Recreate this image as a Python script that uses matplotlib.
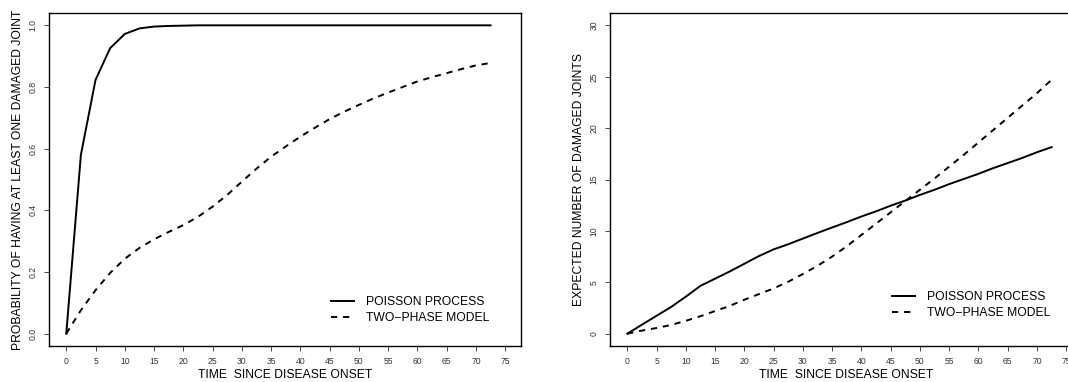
import numpy as np
import matplotlib
matplotlib.use("Agg")
import matplotlib.pyplot as plt

plt.rcParams['font.family'] = ['Liberation Sans', 'DejaVu Sans']

# time since disease onset (every 2.5 units)
time = np.arange(0, 72.5 + 0.01, 2.5)

# probability of having at least one damaged joint
prob_poisson = [0.0, 0.58, 0.823, 0.926, 0.972, 0.990, 0.996, 0.998, 0.999, 1.0,
                1.0, 1.0, 1.0, 1.0, 1.0, 1.0, 1.0, 1.0, 1.0, 1.0,
                1.0, 1.0, 1.0, 1.0, 1.0, 1.0, 1.0, 1.0, 1.0, 1.0]
prob_twophase = [0.0, 0.076, 0.141, 0.197, 0.243, 0.278, 0.306, 0.330, 0.352, 0.379,
                 0.412, 0.450, 0.493, 0.535, 0.574, 0.607, 0.639, 0.668, 0.696, 0.720,
                 0.742, 0.763, 0.782, 0.800, 0.818, 0.832, 0.845, 0.858, 0.870, 0.878]

# expected number of damaged joints
exp_poisson = [0.0, 0.87, 1.74, 2.6, 3.6, 4.65, 5.35, 6.05, 6.8, 7.55,
               8.2, 8.7, 9.25, 9.8, 10.33, 10.85, 11.4, 11.9, 12.45, 12.95,
               13.5, 14.0, 14.55, 15.05, 15.55, 16.1, 16.6, 17.1, 17.65, 18.15]
exp_twophase = [0.0, 0.3, 0.55, 0.85, 1.25, 1.7, 2.2, 2.7, 3.3, 3.85,
                4.4, 5.05, 5.8, 6.6, 7.5, 8.5, 9.6, 10.7, 11.8, 12.9,
                14.0, 15.1, 16.25, 17.4, 18.6, 19.8, 21.0, 22.2, 23.4, 24.7]

labels = ['POISSON PROCESS', 'TWO\u2212PHASE MODEL']
xticks = np.arange(0, 76, 5)

W, H = 1068, 382
fig = plt.figure(figsize=(W / 100, H / 100), dpi=100)
ax1 = fig.add_axes([49 / W, (H - 346) / H, 472 / W, 333 / H])
ax2 = fig.add_axes([610 / W, (H - 346) / H, 472 / W, 333 / H])

lab_fs = 8.7
dash = (0, (3.2, 3.0))


def style(ax, ylim, yticks, ylabel, leg_y):
    ax.set_xlim(-2.95, 77.7)
    ax.set_ylim(*ylim)
    ax.set_xticks(xticks)
    ax.set_yticks(yticks)
    ax.tick_params(direction='out', length=3.6, width=0.7, labelsize=6.2, pad=4.5,
                   color='#444444', labelcolor='#333333')
    for lab in ax.get_yticklabels():
        lab.set_rotation(90)
        lab.set_va('center')
    for sp in ax.spines.values():
        sp.set_linewidth(1.0)
    ax.set_xlabel('TIME  SINCE DISEASE ONSET', fontsize=lab_fs, va='center')
    ax.xaxis.set_label_coords(0.5, -29 / 333)
    ax.set_ylabel(ylabel, fontsize=lab_fs, va='center')
    ax.yaxis.set_label_coords(-30.5 / 472, 0.5)
    ax.legend(loc='center left', bbox_to_anchor=(0.598, leg_y), frameon=False,
              fontsize=lab_fs, handlelength=1.9, handletextpad=1.0,
              labelspacing=0.35, borderpad=0, borderaxespad=0)


ax1.plot(time, prob_poisson, color='black', lw=1.4, label=labels[0])
ax1.plot(time, prob_twophase, color='black', lw=1.4, linestyle=dash, label=labels[1])
style(ax1, (-0.04, 1.04), [0.0, 0.2, 0.4, 0.6, 0.8, 1.0],
      'PROBABILITY OF HAVING AT LEAST ONE DAMAGED JOINT', 0.108)

ax2.plot(time, exp_poisson, color='black', lw=1.4, label=labels[0])
ax2.plot(time, exp_twophase, color='black', lw=1.4, linestyle=dash, label=labels[1])
style(ax2, (-1.2, 31.2), [0, 5, 10, 15, 20, 25, 30],
      'EXPECTED NUMBER OF DAMAGED JOINTS', 0.123)

fig.savefig('out.png', dpi=100)
